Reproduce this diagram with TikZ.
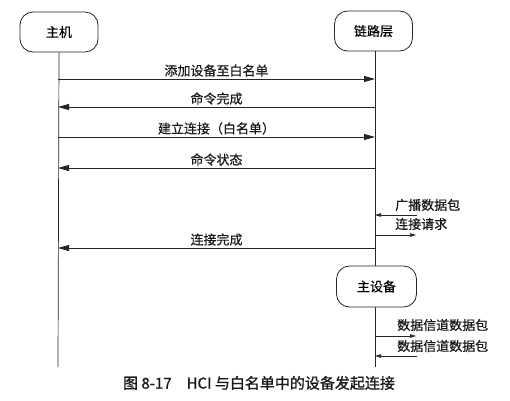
\documentclass[tikz,border=0pt]{standalone}
\usepackage{fontspec}
\setmainfont[FakeBold=0.4]{Noto Sans CJK SC}
\newfontfamily\capfont[FakeBold=1.0]{Noto Sans CJK SC}
\usetikzlibrary{arrows.meta}
\begin{document}
\begin{tikzpicture}[x=1pt,y=-1pt,
  actor/.style={draw=black!85, line width=0.8pt, fill=white, rounded corners=13pt,
    minimum width=78pt, minimum height=40pt, inner sep=0pt, font=\fontsize{13}{15}\selectfont},
  life/.style={draw=black!85, line width=0.7pt},
  msg/.style={draw=black!85, line width=0.8pt, -{Triangle[length=11pt,width=6pt]}},
  small/.style={draw=black!85, line width=0.7pt, -{Triangle[length=6pt,width=3.5pt]}},
  lbl/.style={font=\fontsize{13}{15}\selectfont, inner sep=1pt, text=black!90},
  side/.style={font=\fontsize{13}{15}\selectfont, inner sep=0pt, anchor=west, text=black!90}]
\fill[white] (0,0) rectangle (510,400);
\useasboundingbox (0,0) rectangle (510,400);
% lifelines
\coordinate (hend) at (58,367);
\coordinate (lend) at (375,367);
\node[actor] (host) at (59,32) {主机};
\node[actor] (link) at (373.5,31) {链路层};
\draw[life] (host.south) -- (hend);
\draw[life] (375,50.5) -- (lend);
\node[actor, minimum width=80pt, minimum height=41pt] (master) at (376.5,286.5) {主设备};
% message coordinates
\coordinate (h1) at (58,79);  \coordinate (l1) at (375,79);
\coordinate (h2) at (58,107); \coordinate (l2) at (375,107);
\coordinate (h3) at (58,137); \coordinate (l3) at (375,137);
\coordinate (h4) at (58,168); \coordinate (l4) at (375,168);
\coordinate (h5) at (58,248); \coordinate (l5) at (375,248);
\draw[msg] (h1) -- node[lbl, above=1pt] (t1) {添加设备至白名单} (l1);
\draw[msg] (l2) -- node[lbl, above=1pt] (t2) {命令完成} (h2);
\draw[msg] (h3) -- node[lbl, above=1pt] (t3) {建立连接（白名单）} (l3);
\draw[msg] (l4) -- node[lbl, above=1pt] (t4) {命令状态} (h4);
\draw[msg] (l5) -- node[lbl, above=1pt] (t5) {连接完成} (h5);
% side exchanges
\coordinate (a1) at (417,215); \coordinate (b1) at (375,215);
\coordinate (a2) at (375,235); \coordinate (b2) at (416,235);
\coordinate (a3) at (375,336); \coordinate (b3) at (416,336);
\coordinate (a4) at (417,356); \coordinate (b4) at (375,356);
\node[side] (s1) at (395,205) {广播数据包};
\node[side] (s2) at (395,224) {连接请求};
\node[side] (s3) at (397,325) {数据信道数据包};
\node[side] (s4) at (397,346) {数据信道数据包};
\draw[small] (a1) -- (b1);
\draw[small] (a2) -- (b2);
\draw[small] (a3) -- (b3);
\draw[small] (a4) -- (b4);
% caption
\node[font=\capfont\fontsize{15}{18}\selectfont, text=black!90] (cap) at (259,383) {图 8-17\quad HCI 与白名单中的设备发起连接};
\end{tikzpicture}
\end{document}
